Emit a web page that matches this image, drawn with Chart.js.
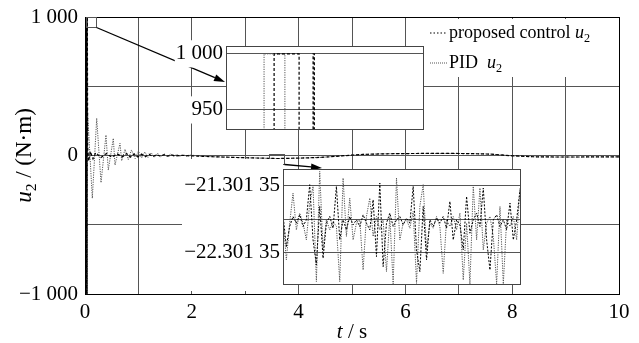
<!DOCTYPE html>
<html><head><meta charset="utf-8">
<script src="https://cdn.jsdelivr.net/npm/chart.js@4.4.0/dist/chart.umd.min.js"></script>
<style>
html,body{margin:0;padding:0;background:#fff;}
#wrap{position:relative;width:639px;height:343px;overflow:hidden;background:#fff;}
canvas{position:absolute;display:block;}
#cover2{position:absolute;background:#fff;}
</style></head><body>
<div id="wrap">
<canvas id="main" width="639" height="343" style="left:0;top:0"></canvas>
<div id="cover2"></div>
<canvas id="inset1"></canvas>
<canvas id="inset2"></canvas>
</div>
<script>
// ---------- data ----------
const seriesNames = ['proposed control', 'PID'];
const xTickValues = [0,1,2,3,4,5,6,7,8,9,10];
const xTickLabels = ['0','','2','','4','','6','','8','','10'];
const yTickValues = [-1000,-500,0,500,1000];
const yTickLabels = ['\u22121 000','','0','','1 000'];

const timeProposed = [0,0.004,0.009,0.014,0.019,0.024,0.029,0.034,0.039,0.044,0.05,0.07,0.1,0.15,0.2,0.3,0.4,0.5,0.6,0.7,0.78,0.85,0.92,0.99,1.06,1.13,1.2,1.27,1.34,1.41,1.48,1.55,1.62,1.7,1.8,2.0,2.4,2.8,3.2,3.6,4.0,4.4,4.8,5.2,5.6,6.0,6.4,6.8,7.2,7.6,8.0,8.4,8.8,9.2,9.6,10];
const proposedU2 = [0,1000,-1000,1000,-1000,1000,-1000,1000,-1000,1000,60,-40,30,-25,20,-15,14,-12,12,-10,14,-12,12,-10,10,-9,9,-8,7,-6,6,-5,4,-3,1,-3,-9,-14,-18,-22,-19,-14,-3,8,12,14,15,15,14,10,-2,-9,-11,-11,-10,-10];

const timePID = [0,0.006,0.012,0.018,0.024,0.030,0.036,0.043,0.137,0.219,0.300,0.393,0.436,0.530,0.562,0.655,0.687,0.75,0.81,0.87,0.94,1.0,1.06,1.12,1.18,1.24,1.30,1.36,1.42,1.48,1.54,1.60,1.66,1.72,1.78,1.84,1.90,1.96,2.2,2.6,3.0,3.2,3.6,4.0,4.4,4.8,5.2,5.6,6.0,6.4,6.8,7.2,7.6,8.0,8.4,8.8,9.2,9.6,10];
const pidU2 = [0,1000,-1000,1000,-1000,1000,-1000,348,-309,269,-196,148,-105,124,-69,88,-38,45,-30,40,-22,32,-18,26,-14,20,-12,16,-10,13,-8,10,-7,8,-6,6,-5,4,-6,-11,-16,-18,-22,-19,-14,-3,8,12,14,15,15,14,10,-2,-9,-11,-11,-10,-10];

// zoom window 1 (near t = 0, u2 = 1 000)
const zoom1Window = {t:[0.02,0.21], u:[928,1000]};
const zoom1TickValues = [950,1000];
const zoom1TickLabels = ['950','1 000'];
const zoom1TimeProposed = [0.0664,0.0664,0.0905,0.0905,0.104,0.104,0.1052,0.1052];
const zoom1Proposed = [900,1000,1000,900,900,1000,1000,900];
const zoom1TimePID = [0.0567,0.0567,0.0768,0.0768,0.21];
const zoom1PID = [900,1000,1000,900,900];

// zoom window 2 (t around 3.6 s)
const zoom2Window = {t:[3.45,3.734], u:[-60,10]};
const zoom2TickValues = [-22.30135,-21.80135,-21.30135];
const zoom2TickLabels = ['\u221222.301 35','','\u221221.301 35'];
const zoom2Time = [3.450,3.454,3.458,3.462,3.466,3.470,3.474,3.478,3.482,3.486,3.490,3.494,3.498,3.502,3.506,3.510,3.514,3.518,3.522,3.526,3.530,3.534,3.538,3.542,3.546,3.550,3.554,3.558,3.562,3.566,3.570,3.574,3.578,3.582,3.586,3.590,3.594,3.598,3.602,3.606,3.610,3.614,3.618,3.622,3.626,3.630,3.634,3.638,3.642,3.646,3.650,3.654,3.658,3.662,3.666,3.670,3.674,3.678,3.682,3.686,3.690,3.694,3.698,3.702,3.706,3.710,3.714,3.718,3.722,3.726,3.730,3.734];
const zoom2PID = [-21.761,-22.411,-21.861,-21.411,-21.961,-21.711,-21.861,-22.111,-21.561,-21.311,-22.736,-21.086,-22.261,-21.811,-21.961,-21.836,-21.911,-22.736,-21.186,-22.061,-21.486,-22.111,-21.861,-21.811,-22.561,-21.761,-21.486,-22.061,-21.761,-21.961,-21.811,-22.586,-21.761,-22.771,-21.186,-22.111,-21.861,-21.811,-21.936,-21.686,-22.761,-21.611,-21.286,-22.261,-21.861,-21.936,-21.761,-21.911,-22.611,-21.811,-21.911,-21.761,-21.961,-21.711,-22.711,-21.861,-22.771,-21.311,-22.111,-21.336,-22.261,-21.861,-21.761,-22.061,-22.771,-21.611,-22.771,-21.811,-21.911,-21.761,-22.111,-21.336];
const zoom2Proposed = [-21.736,-22.211,-21.911,-21.761,-21.861,-21.736,-21.911,-21.811,-21.286,-22.111,-22.486,-21.611,-22.386,-21.861,-21.761,-21.936,-21.311,-22.111,-21.811,-21.961,-21.761,-21.886,-21.811,-21.911,-21.736,-21.861,-21.961,-21.511,-22.361,-21.261,-22.511,-21.861,-21.711,-21.911,-21.811,-21.761,-21.886,-21.786,-21.861,-21.311,-22.261,-22.586,-21.611,-22.411,-21.811,-21.911,-21.786,-21.861,-21.761,-21.936,-21.536,-22.111,-21.811,-21.886,-22.261,-21.461,-22.011,-21.811,-21.711,-21.911,-21.336,-22.111,-22.561,-21.811,-21.736,-21.911,-21.811,-21.961,-21.561,-22.111,-21.811,-21.361];

// ---------- layout / style ----------
const SERIF = "'Liberation Serif','Times New Roman',serif";
const TICK_SIZE = 21;
const INSET1 = {left:226, top:46, right:423, bottom:129, labelW:60};
const INSET2 = {left:283, top:169, right:520, bottom:284, labelW:101};
const PROPOSED_STYLE = {borderColor:'#000', borderWidth:1.2, borderDash:[3,2]};
const PID_STYLE = {borderColor:'#555', borderWidth:1, borderDash:[1.2,1.2]};
const GRID = '#555';

const pts = (ts, vs) => ts.map((t, i) => ({x:t, y:vs[i]}));

function drawRich(ctx, parts, x, baseline, size, align) {
  const fonts = parts.map(p => (p.italic ? 'italic ' : '') + (p.sub ? size*0.68 : size).toFixed(1) + 'px ' + SERIF);
  const widths = parts.map((p, i) => { ctx.font = fonts[i]; return ctx.measureText(p.text).width; });
  const total = widths.reduce((a, b) => a + b, 0);
  let cx = align === 'center' ? x - total/2 : x;
  ctx.textAlign = 'left'; ctx.textBaseline = 'alphabetic'; ctx.fillStyle = '#000';
  parts.forEach((p, i) => { ctx.font = fonts[i]; ctx.fillText(p.text, cx, baseline + (p.sub ? size*0.22 : 0)); cx += widths[i]; });
}
function arrow(ctx, x0, y0, x1, y1) {
  const ang = Math.atan2(y1 - y0, x1 - x0), L = 11, W = 3.5;
  const bx = x1 - L*Math.cos(ang), by = y1 - L*Math.sin(ang);
  ctx.beginPath(); ctx.moveTo(x0, y0); ctx.lineTo(bx, by); ctx.stroke();
  ctx.beginPath(); ctx.moveTo(x1, y1);
  ctx.lineTo(bx + W*Math.sin(ang), by - W*Math.cos(ang));
  ctx.lineTo(bx - W*Math.sin(ang), by + W*Math.cos(ang));
  ctx.closePath(); ctx.fill();
}
function frameRect(ctx, a, color) {
  ctx.save(); ctx.strokeStyle = color; ctx.lineWidth = 1; ctx.setLineDash([]);
  ctx.strokeRect(Math.round(a.left)+0.5, Math.round(a.top)+0.5, Math.round(a.right)-Math.round(a.left), Math.round(a.bottom)-Math.round(a.top));
  ctx.restore();
}
const noPad = s => { s.paddingTop = 0; s.paddingBottom = 0; s.paddingLeft = 0; s.paddingRight = 0; };

// ---------- main chart ----------
const decor = {
  id: 'decor',
  afterDatasetsDraw(chart) {
    const {ctx, chartArea: a, scales: {x, y}} = chart;
    frameRect(ctx, a, '#000');
    ctx.save();
    // zoom boxes
    ctx.strokeStyle = '#555'; ctx.lineWidth = 1;
    const boxes = [zoom1Window, zoom2Window].map(w => {
      const l = Math.round(x.getPixelForValue(w.t[0])) + 0.5, r = Math.round(x.getPixelForValue(w.t[1])) + 0.5;
      const t = Math.round(y.getPixelForValue(w.u[1])) + 0.5, b = Math.round(y.getPixelForValue(w.u[0])) + 0.5;
      ctx.strokeRect(l, t, r - l, b - t);
      return {r, b};
    });
    // arrows
    ctx.strokeStyle = '#000'; ctx.fillStyle = '#000'; ctx.lineWidth = 1.3;
    arrow(ctx, boxes[0].r, boxes[0].b, INSET1.left - 1, INSET1.top + 36);
    arrow(ctx, boxes[1].r, boxes[1].b, INSET2.left + 39, INSET2.top - 1);
    // legend
    ctx.fillStyle = '#fff'; ctx.fillRect(424, 19, 194, 58);
    ctx.lineWidth = 1.2; ctx.strokeStyle = '#000'; ctx.setLineDash([1.5, 2]);
    ctx.beginPath(); ctx.moveTo(430, 33); ctx.lineTo(447, 33); ctx.stroke();
    ctx.strokeStyle = '#555'; ctx.lineWidth = 1; ctx.setLineDash([1, 1]);
    ctx.beginPath(); ctx.moveTo(430, 63); ctx.lineTo(447, 63); ctx.stroke();
    ctx.setLineDash([]);
    drawRich(ctx, [{text: seriesNames[0] + ' '}, {text:'u', italic:true}, {text:'2', sub:true}], 449, 38, 18, 'left');
    drawRich(ctx, [{text: seriesNames[1] + '  '}, {text:'u', italic:true}, {text:'2', sub:true}], 449, 68, 18, 'left');
    // axis titles
    drawRich(ctx, [{text:'t', italic:true}, {text:' / s'}], (a.left + a.right)/2, 338, 21, 'center');
    ctx.translate(24, (a.top + a.bottom)/2);
    ctx.rotate(-Math.PI/2);
    drawRich(ctx, [{text:'u', italic:true}, {text:'2', sub:true}, {text:' / (N\u00b7m)'}], 0, 7, 23, 'center');
    ctx.restore();
  }
};

new Chart(document.getElementById('main'), {
  type: 'line',
  data: { datasets: [
    Object.assign({label: seriesNames[0], data: pts(timeProposed, proposedU2), pointRadius:0, tension:0, fill:false}, PROPOSED_STYLE),
    Object.assign({label: seriesNames[1], data: pts(timePID, pidU2), pointRadius:0, tension:0, fill:false}, PID_STYLE)
  ]},
  options: {
    responsive:false, animation:false, devicePixelRatio:1,
    layout:{padding:{top:17, right:20, left:0, bottom:0}},
    plugins:{legend:{display:false}, tooltip:{enabled:false}},
    scales:{
      x:{type:'linear', min:0, max:10,
        afterBuildTicks: s => { s.ticks = xTickValues.map(v => ({value:v})); },
        afterFit: s => { s.height = 49; noPad(s); },
        grid:{color:GRID, lineWidth:1, drawTicks:false}, border:{display:false},
        ticks:{padding:6, autoSkip:false, maxRotation:0, color:'#000', font:{family:SERIF, size:TICK_SIZE}, callback:(v, i) => xTickLabels[i]}},
      y:{type:'linear', min:-1000, max:1000,
        afterBuildTicks: s => { s.ticks = yTickValues.map(v => ({value:v})); },
        afterFit: s => { s.width = 85; noPad(s); },
        grid:{color:GRID, lineWidth:1, drawTicks:false}, border:{display:false},
        ticks:{padding:7, autoSkip:false, color:'#000', font:{family:SERIF, size:TICK_SIZE}, callback:(v, i) => yTickLabels[i]}}
    }
  },
  plugins:[decor]
});

// ---------- insets ----------
const insetBg = {
  id:'insetBg',
  beforeDraw(chart){ const {ctx, chartArea:a} = chart; ctx.save(); ctx.fillStyle = '#fff'; ctx.fillRect(a.left, a.top, a.right - a.left, a.bottom - a.top); ctx.restore(); },
  afterDatasetsDraw(chart){ frameRect(chart.ctx, chart.chartArea, '#444'); }
};

function makeInset(id, box, padTop, padBottom, xRange, yRange, tickVals, tickLabels, datasets, backdrop) {
  const cv = document.getElementById(id);
  const w = box.right - box.left + box.labelW + 1, h = box.bottom - box.top + padTop + padBottom;
  cv.width = w; cv.height = h;
  cv.style.left = (box.left - box.labelW) + 'px'; cv.style.top = (box.top - padTop) + 'px';
  return new Chart(cv, {
    type:'line', data:{datasets},
    options:{
      responsive:false, animation:false, devicePixelRatio:1,
      layout:{padding:{top:padTop, bottom:padBottom, right:1, left:0}},
      plugins:{legend:{display:false}, tooltip:{enabled:false}},
      scales:{
        x:{type:'linear', display:false, min:xRange[0], max:xRange[1]},
        y:{type:'linear', min:yRange[0], max:yRange[1],
          afterBuildTicks: s => { s.ticks = tickVals.map(v => ({value:v})); },
          afterFit: s => { s.width = box.labelW; noPad(s); },
          grid:{color:GRID, lineWidth:1, drawTicks:false}, border:{display:false},
          ticks:{padding:3, autoSkip:false, color:'#000', font:{family:SERIF, size:TICK_SIZE},
            showLabelBackdrop:backdrop, backdropColor:'#fff', backdropPadding:1,
            callback:(v, i) => tickLabels[i]}}
      }
    },
    plugins:[insetBg]
  });
}

makeInset('inset1', INSET1, 6, 2, [0.02, 0.21], [933, 1007], zoom1TickValues, zoom1TickLabels, [
  Object.assign({data: pts(zoom1TimeProposed, zoom1Proposed), pointRadius:0, tension:0}, PROPOSED_STYLE),
  Object.assign({data: pts(zoom1TimePID, zoom1PID), pointRadius:0, tension:0}, PID_STYLE)
], true);

const cover = document.getElementById('cover2');
cover.style.left = (INSET2.left - INSET2.labelW) + 'px'; cover.style.top = '159px';
cover.style.width = INSET2.labelW + 'px'; cover.style.height = '132px';

makeInset('inset2', INSET2, 4, 2, [zoom2Time[0], zoom2Time[zoom2Time.length - 1]], [-22.771, -21.051], zoom2TickValues, zoom2TickLabels, [
  Object.assign({data: pts(zoom2Time, zoom2Proposed), pointRadius:0, tension:0}, PROPOSED_STYLE, {borderWidth:1, borderDash:[2,1.5]}),
  Object.assign({data: pts(zoom2Time, zoom2PID), pointRadius:0, tension:0}, PID_STYLE)
], false);
</script>
</body></html>
